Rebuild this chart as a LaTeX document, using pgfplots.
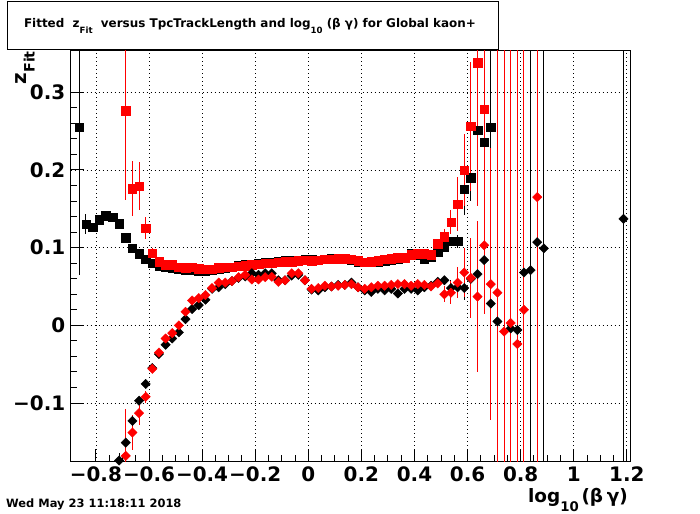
\documentclass[border=0pt]{standalone}
\usepackage{pgfplots}
\pgfplotsset{compat=1.18}
\usepackage{pgfplotstable}
\usepackage{fontspec}
\setmainfont{DejaVu Sans}

\newcommand\sub[1]{\raisebox{-0.8ex}{\scalebox{0.72}{#1}}}

% black squares
\pgfplotstableread{
x y ep em
-0.8625 0.255 0.19 0.19
-0.8375 0.130 0.013 0.013
-0.8125 0.126 0.006 0.006
-0.7875 0.136 0.005 0.005
-0.7625 0.141 0.004 0.004
-0.7375 0.139 0.004 0.004
-0.7125 0.131 0.003 0.003
-0.6875 0.113 0.003 0.003
-0.6625 0.099 0.002 0.002
-0.6375 0.092 0 0
-0.6125 0.085 0 0
-0.5875 0.080 0 0
-0.5625 0.076 0 0
-0.5375 0.075 0 0
-0.5125 0.074 0 0
-0.4875 0.072 0 0
-0.4625 0.071 0 0
-0.4375 0.071 0 0
-0.4125 0.070 0 0
-0.3875 0.070 0 0
-0.3625 0.071 0 0
-0.3375 0.073 0 0
-0.3125 0.074 0 0
-0.2875 0.075 0 0
-0.2625 0.077 0 0
-0.2375 0.078 0 0
-0.2125 0.079 0 0
-0.1875 0.080 0 0
-0.1625 0.081 0 0
-0.1375 0.081 0 0
-0.1125 0.082 0 0
-0.0875 0.083 0 0
-0.0625 0.083 0 0
-0.0375 0.084 0 0
-0.0125 0.085 0 0
0.0125 0.085 0 0
0.0375 0.084 0 0
0.0625 0.085 0 0
0.0875 0.086 0 0
0.1125 0.086 0 0
0.1375 0.085 0 0
0.1625 0.084 0 0
0.1875 0.082 0 0
0.2125 0.081 0 0
0.2375 0.082 0 0
0.2625 0.081 0 0
0.2875 0.083 0 0
0.3125 0.084 0 0
0.3375 0.085 0 0
0.3625 0.087 0 0
0.3875 0.093 0 0
0.4125 0.090 0 0
0.4375 0.086 0 0
0.4625 0.088 0 0
0.4875 0.095 0.003 0.003
0.5125 0.101 0.004 0.004
0.5375 0.108 0.005 0.005
0.5625 0.108 0.008 0.008
0.5875 0.175 0.033 0.033
0.6125 0.190 0.030 0.030
0.6375 0.251 0.040 0.040
0.6625 0.2355 0.040 0.040
0.6875 0.255 0.20 0.03
}\blacksq

% red squares
\pgfplotstableread{
x y ep em
-0.6875 0.276 0.115 0.115
-0.6625 0.176 0.035 0.035
-0.6375 0.179 0.031 0.031
-0.6125 0.125 0.014 0.014
-0.5875 0.093 0.006 0.006
-0.5625 0.082 0.003 0.003
-0.5375 0.078 0.002 0.002
-0.5125 0.078 0 0
-0.4875 0.075 0 0
-0.4625 0.074 0 0
-0.4375 0.075 0 0
-0.4125 0.073 0 0
-0.3875 0.072 0 0
-0.3625 0.072 0 0
-0.3375 0.074 0 0
-0.3125 0.075 0 0
-0.2875 0.075 0 0
-0.2625 0.076 0 0
-0.2375 0.077 0 0
-0.2125 0.078 0 0
-0.1875 0.079 0 0
-0.1625 0.080 0 0
-0.1375 0.080 0 0
-0.1125 0.081 0 0
-0.0875 0.082 0 0
-0.0625 0.082 0 0
-0.0375 0.083 0 0
-0.0125 0.084 0 0
0.0125 0.083 0 0
0.0375 0.084 0 0
0.0625 0.085 0 0
0.0875 0.085 0 0
0.1125 0.086 0 0
0.1375 0.086 0 0
0.1625 0.085 0 0
0.1875 0.083 0 0
0.2125 0.081 0 0
0.2375 0.082 0 0
0.2625 0.083 0 0
0.2875 0.085 0 0
0.3125 0.086 0 0
0.3375 0.087 0 0
0.3625 0.087 0 0
0.3875 0.091 0 0
0.4125 0.092 0 0
0.4375 0.092 0 0
0.4625 0.091 0 0
0.4875 0.105 0.005 0.005
0.5125 0.114 0.010 0.010
0.5375 0.133 0.015 0.015
0.5625 0.156 0.035 0.035
0.5875 0.200 0.046 0.046
0.6125 0.2565 0.083 0.083
0.6375 0.338 0.185 0.185
0.6625 0.278 0.26 0.26
}\redsq

% black diamonds
\pgfplotstableread{
x y ep em
-0.7125 -0.174 0.010 0.010
-0.6875 -0.151 0.008 0.008
-0.6625 -0.123 0.006 0.006
-0.6375 -0.097 0.004 0.004
-0.6125 -0.0755 0.003 0.003
-0.5875 -0.055 0.002 0.002
-0.5625 -0.037 0 0
-0.5375 -0.025 0 0
-0.5125 -0.017 0 0
-0.4875 -0.009 0 0
-0.4625 0.008 0 0
-0.4375 0.021 0 0
-0.4125 0.026 0 0
-0.3875 0.033 0 0
-0.3625 0.047 0 0
-0.3375 0.049 0 0
-0.3125 0.053 0 0
-0.2875 0.057 0 0
-0.2625 0.061 0 0
-0.2375 0.063 0 0
-0.2125 0.067 0 0
-0.1875 0.065 0 0
-0.1625 0.067 0 0
-0.1375 0.067 0 0
-0.1125 0.058 0 0
-0.0875 0.058 0 0
-0.0625 0.064 0 0
-0.0375 0.065 0 0
-0.0125 0.058 0 0
0.0125 0.046 0 0
0.0375 0.045 0 0
0.0625 0.049 0 0
0.0875 0.050 0 0
0.1125 0.052 0 0
0.1375 0.052 0 0
0.1625 0.055 0 0
0.1875 0.049 0 0
0.2125 0.045 0 0
0.2375 0.043 0 0
0.2625 0.047 0 0
0.2875 0.045 0 0
0.3125 0.047 0 0
0.3375 0.041 0 0
0.3625 0.047 0 0
0.3875 0.047 0 0
0.4125 0.045 0 0
0.4375 0.049 0 0
0.4625 0.051 0 0
0.4875 0.056 0.004 0.004
0.5125 0.058 0.006 0.006
0.5375 0.048 0.010 0.010
0.5625 0.049 0.012 0.012
0.5875 0.048 0.015 0.015
0.6125 0.060 0.020 0.020
0.6375 0.066 0.030 0.030
0.6625 0.084 0.030 0.030
0.6875 0.028 0.030 0.030
0.7125 0.005 0.030 0.030
0.7625 -0.004 0.030 0.030
0.7875 -0.006 0.030 0.030
0.8125 0.068 0.030 0.030
0.8375 0.071 1 1
0.8625 0.107 0.030 0.030
0.8875 0.099 1 1
1.1875 0.137 1 1
}\blackdi

% red diamonds
\pgfplotstableread{
x y ep em
-0.6875 -0.168 0.060 0.060
-0.6625 -0.138 0.023 0.023
-0.6375 -0.113 0.015 0.015
-0.6125 -0.092 0.008 0.008
-0.5875 -0.056 0.003 0.003
-0.5625 -0.035 0 0
-0.5375 -0.017 0 0
-0.5125 -0.010 0 0
-0.4875 0.000 0 0
-0.4625 0.0175 0 0
-0.4375 0.032 0 0
-0.4125 0.035 0 0
-0.3875 0.039 0 0
-0.3625 0.048 0 0
-0.3375 0.055 0 0
-0.3125 0.055 0 0
-0.2875 0.057 0 0
-0.2625 0.062 0 0
-0.2375 0.065 0 0
-0.2125 0.059 0 0
-0.1875 0.059 0 0
-0.1625 0.062 0 0
-0.1375 0.0625 0 0
-0.1125 0.056 0 0
-0.0875 0.058 0 0
-0.0625 0.067 0 0
-0.0375 0.067 0 0
-0.0125 0.058 0 0
0.0125 0.047 0 0
0.0375 0.048 0 0
0.0625 0.051 0 0
0.0875 0.050 0 0
0.1125 0.051 0 0
0.1375 0.052 0 0
0.1625 0.053 0 0
0.1875 0.049 0 0
0.2125 0.047 0 0
0.2375 0.049 0 0
0.2625 0.051 0 0
0.2875 0.051 0 0
0.3125 0.052 0 0
0.3375 0.053 0 0
0.3625 0.053 0 0
0.3875 0.051 0 0
0.4125 0.053 0 0
0.4375 0.052 0 0
0.4625 0.050 0 0
0.4875 0.054 0.005 0.005
0.5125 0.040 0.010 0.010
0.5375 0.042 0.015 0.015
0.5625 0.055 0.020 0.020
0.5875 0.068 0.031 0.031
0.6125 0.061 0.052 0.052
0.6375 0.037 0.097 0.097
0.6625 0.103 0.088 0.088
0.6875 0.053 0.175 0.175
0.7125 0.042 1 1
0.7375 -0.008 1 1
0.7625 0.003 1 1
0.7875 -0.024 1 1
0.8125 0.020 1 1
0.8625 0.165 1 1
}\reddi

\begin{document}
\begin{tikzpicture}[x=1bp,y=1bp]
\useasboundingbox (0,0) rectangle (700,514);
\begin{axis}[
  at={(70.7bp,52.3bp)}, anchor=south west,
  scale only axis, width=559.3bp, height=411bp,
  xmin=-0.895, xmax=1.212, ymin=-0.1755, ymax=0.3535,
  xtick={-0.8,-0.6,-0.4,-0.2,0,0.2,0.4,0.6,0.8,1,1.2},
  xticklabels={−0.8,−0.6,−0.4,−0.2,0,0.2,0.4,0.6,0.8,1,1.2},
  ytick={-0.1,0,0.1,0.2,0.3},
  yticklabels={−0.1,0,0.1,0.2,0.3},
  minor x tick num=3, minor y tick num=4,
  tick align=inside, tick pos=left,
  major tick length=13bp, minor tick length=6.5bp,
  grid=major,
  major grid style={black, line width=0.8bp, dash pattern=on 1bp off 3bp},
  axis line style={line width=1bp},
  tick style={black, line width=1bp},
  ticklabel style={font=\bfseries\fontsize{20}{24}\selectfont},
  yticklabel style={xshift=-2bp},
  xticklabel style={yshift=-2bp},
  only marks,
  error bars/y dir=both, error bars/y explicit, error bars/error mark=none,
  error bars/error bar style={line width=1bp},
]
\addplot[black, mark=square*, mark size=4.2bp]
  table[x=x, y=y, y error plus=ep, y error minus=em] {\blacksq};
\addplot[red, mark=square*, mark size=4.2bp]
  table[x=x, y=y, y error plus=ep, y error minus=em] {\redsq};
\addplot[black, mark=square*, mark size=3.3bp, mark options={rotate=45}]
  table[x=x, y=y, y error plus=ep, y error minus=em] {\blackdi};
\addplot[red, mark=square*, mark size=3.3bp, mark options={rotate=45}]
  table[x=x, y=y, y error plus=ep, y error minus=em] {\reddi};
\end{axis}
\draw[fill=white, line width=1bp] (7,464) rectangle (498,512.5);
\node[font=\bfseries\fontsize{12}{14}\selectfont] at (250,488)
  {Fitted \ z\sub{Fit} \ versus TpcTrackLength and log\sub{10} (β γ) for Global kaon+};
\node[rotate=90, anchor=base east, inner sep=0pt, font=\bfseries\fontsize{20}{24}\selectfont] at (26,463) {z\sub{Fit}};
\node[anchor=base east, inner sep=0pt, font=\bfseries\fontsize{18.5}{22}\selectfont] at (628,11) {log\sub{10}\hspace{0.15em}(β\hspace{0.2em}γ)};
\node[anchor=base west, inner sep=0pt, font=\bfseries\fontsize{11.5}{13}\selectfont] at (6,6) {Wed May 23 11:18:11 2018};
\end{tikzpicture}
\end{document}
